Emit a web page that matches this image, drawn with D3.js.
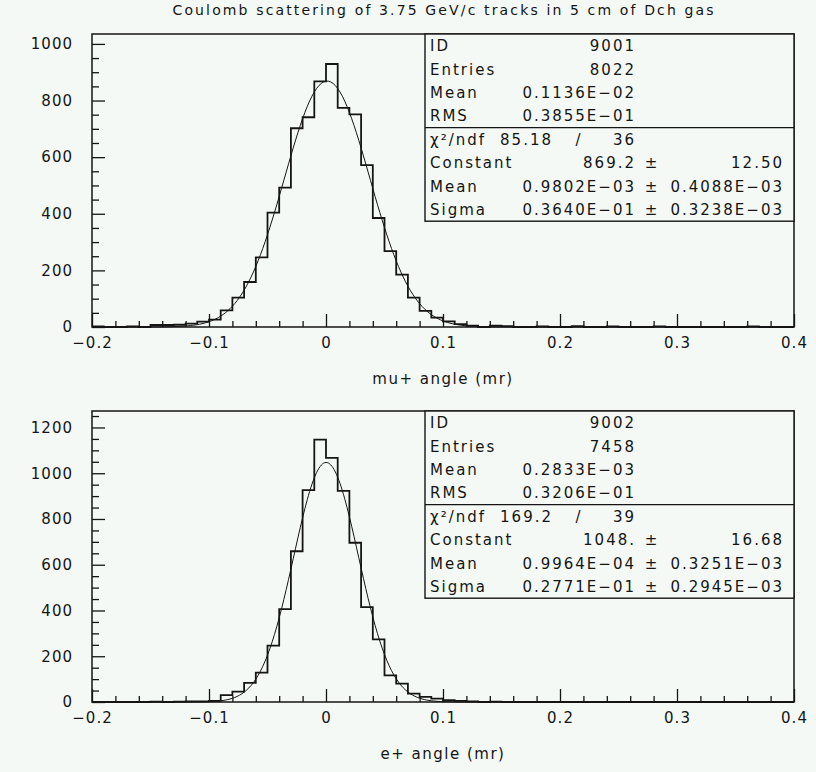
<!DOCTYPE html>
<html>
<head>
<meta charset="utf-8">
<script src="https://cdn.jsdelivr.net/npm/d3@7"></script>
<style>
body { margin: 0; background: #f4f9f6; }
svg text { font-family: "DejaVu Sans", sans-serif; fill: #151515; }
</style>
</head>
<body>
<script>
// Histogram bins: 60 bins of width 0.01 from -0.2 to 0.4 (lower edges)
var binLow = d3.range(60).map(function(i){ return Math.round((-0.2 + i * 0.01) * 100) / 100; });

// mu+ counts per bin
var muCounts = [2, 0, 0, 2, 0, 7, 7, 8, 12, 19,
                26, 59, 104, 159, 246, 404, 492, 702, 741, 868,
                929, 774, 751, 572, 385, 268, 185, 104, 57, 33,
                20, 10, 5, 0, 5, 3, 0, 0, 2, 0,
                0, 3, 0, 0, 2, 0, 0, 0, 2, 0,
                0, 0, 0, 0, 0, 0, 2, 0, 0, 0];

// e+ counts per bin
var eCounts = [0, 0, 0, 0, 0, 2, 0, 2, 3, 3,
               5, 30, 45, 84, 128, 246, 406, 659, 926, 1147,
               1067, 923, 696, 415, 274, 116, 80, 37, 22, 15,
               8, 5, 3, 0, 2, 0, 0, 0, 0, 0,
               0, 0, 0, 0, 0, 0, 0, 0, 0, 0,
               0, 0, 0, 0, 0, 0, 0, 0, 0, 0];

// Gaussian fit parameters (constant, mean, sigma) as printed in the stat boxes
var muFit = [869.2, 0.9802e-03, 0.3640e-01];
var eFit = [1048.0, 0.9964e-04, 0.2771e-01];

// Tick values
var xTicks = [-0.2, -0.1, 0, 0.1, 0.2, 0.3, 0.4];
var muYTicks = [0, 200, 400, 600, 800, 1000];
var eYTicks = [0, 200, 400, 600, 800, 1000, 1200];

// Stat box texts
var muStats = [["ID", "9001"], ["Entries", "8022"], ["Mean", "0.1136E\u221202"], ["RMS", "0.3855E\u221201"]];
var muChi = ["\u03c7\u00b2/ndf", "85.18", "36"];
var muFitRows = [["Constant", "869.2", "12.50"], ["Mean", "0.9802E\u221203", "0.4088E\u221203"], ["Sigma", "0.3640E\u221201", "0.3238E\u221203"]];

var eStats = [["ID", "9002"], ["Entries", "7458"], ["Mean", "0.2833E\u221203"], ["RMS", "0.3206E\u221201"]];
var eChi = ["\u03c7\u00b2/ndf", "169.2", "39"];
var eFitRows = [["Constant", "1048.", "16.68"], ["Mean", "0.9964E\u221204", "0.3251E\u221203"], ["Sigma", "0.2771E\u221201", "0.2945E\u221203"]];

var title = "Coulomb scattering of 3.75 GeV/c tracks in 5 cm of Dch gas";

var W = 816, H = 772;
var ink = "#151515";

var svg = d3.select("body").append("svg").attr("width", W).attr("height", H);
svg.append("rect").attr("width", W).attr("height", H).attr("fill", "#f4f9f6");

svg.append("text")
    .attr("x", 443).attr("y", 15)
    .attr("text-anchor", "middle")
    .attr("textLength", 541).attr("lengthAdjust", "spacing")
    .style("font-size", "14px")
    .text(title);

function panel(top, bottom, yMax, counts, yTicks, fit, stats, chi, fitRows, xLabel) {
    var x = d3.scaleLinear().domain([-0.2, 0.4]).range([92, 794]);
    var y = d3.scaleLinear().domain([0, yMax]).range([bottom, top]);
    var g = svg.append("g");

    // minor ticks: every 50 on y, every 0.02 on x
    var yMinor = d3.range(0, yMax, 50).filter(function(v){ return v % 200 !== 0; });
    var xMinor = d3.range(31).map(function(i){ return Math.round((-0.2 + i * 0.02) * 100) / 100; })
        .filter(function(v){ return Math.abs(Math.round(v * 10) - v * 10) > 1e-6; });

    var yAxis = d3.axisLeft(y).tickValues(yTicks).tickSize(-13).tickSizeOuter(0).tickPadding(19)
        .tickFormat(d3.format("d"));
    var yAxisMinor = d3.axisLeft(y).tickValues(yMinor).tickSize(-7).tickSizeOuter(0).tickFormat("");
    var xAxis = d3.axisBottom(x).tickValues(xTicks).tickSize(-13).tickSizeOuter(0).tickPadding(10)
        .tickFormat(function(d){ return d === 0 ? "0" : d3.format(".1f")(d); });
    var xAxisMinor = d3.axisBottom(x).tickValues(xMinor).tickSize(-6).tickSizeOuter(0).tickFormat("");

    [[yAxis, "translate(92,0)"], [yAxisMinor, "translate(92,0)"],
     [xAxis, "translate(0," + bottom + ")"], [xAxisMinor, "translate(0," + bottom + ")"]].forEach(function(a){
        var ax = g.append("g").attr("transform", a[1]).call(a[0]);
        ax.select(".domain").remove();
        ax.selectAll("line").attr("stroke", ink).attr("stroke-width", 1.3);
        ax.selectAll("text").style("font-size", "15px").style("letter-spacing", "1px")
            .attr("fill", ink).style("font-family", "DejaVu Sans, sans-serif");
    });

    // histogram outline
    var pts = binLow.map(function(b, i){ return [b, counts[i]]; });
    pts.push([0.4, counts[counts.length - 1]]);
    var step = d3.line().x(function(d){ return x(d[0]); }).y(function(d){ return y(d[1]); }).curve(d3.curveStepAfter);
    g.append("path").attr("d", step(pts)).attr("fill", "none").attr("stroke", ink).attr("stroke-width", 1.8);

    // fitted gaussian, from the printed fit parameters
    var gx = d3.range(-0.2, 0.4001, 0.002);
    var gauss = d3.line()
        .x(function(v){ return x(v); })
        .y(function(v){ return y(fit[0] * Math.exp(-0.5 * Math.pow((v - fit[1]) / fit[2], 2))); })
        .curve(d3.curveBasis);
    g.append("path").attr("d", gauss(gx)).attr("fill", "none").attr("stroke", ink).attr("stroke-width", 1);

    // frame
    g.append("rect").attr("x", 92).attr("y", top).attr("width", 702).attr("height", bottom - top)
        .attr("fill", "none").attr("stroke", ink).attr("stroke-width", 1.5);

    // stat box
    var rowH = 23.4, bx = 425;
    g.append("rect").attr("x", bx).attr("y", top).attr("width", 794 - bx).attr("height", rowH * 8)
        .attr("fill", "#f4f9f6").attr("stroke", ink).attr("stroke-width", 1.4);
    g.append("line").attr("x1", bx).attr("x2", 794).attr("y1", top + rowH * 4).attr("y2", top + rowH * 4)
        .attr("stroke", ink).attr("stroke-width", 1.4);

    function txt(xp, row, s, anchor) {
        g.append("text").attr("x", xp).attr("y", top + rowH * (row + 0.5) + 5.5)
            .attr("text-anchor", anchor).style("font-size", "15px").style("letter-spacing", "2px")
            .text(s);
    }
    stats.forEach(function(r, i){
        txt(430, i, r[0], "start");
        txt(636, i, r[1], "end");
    });
    txt(430, 4, chi[0], "start");
    txt(553, 4, chi[1], "end");
    txt(579, 4, "/", "middle");
    txt(636, 4, chi[2], "end");
    fitRows.forEach(function(r, i){
        txt(430, 5 + i, r[0], "start");
        txt(636, 5 + i, r[1], "end");
        txt(652, 5 + i, "\u00b1", "middle");
        txt(784, 5 + i, r[2], "end");
    });

    // x axis title
    g.append("text").attr("x", 443).attr("y", bottom + 57).attr("text-anchor", "middle")
        .style("font-size", "15px").style("letter-spacing", "1.5px").text(xLabel);
}

panel(34, 327, 1035, muCounts, muYTicks, muFit, muStats, muChi, muFitRows, "mu+ angle (mr)");
panel(411, 702, 1272, eCounts, eYTicks, eFit, eStats, eChi, eFitRows, "e+ angle (mr)");
</script>
</body>
</html>
